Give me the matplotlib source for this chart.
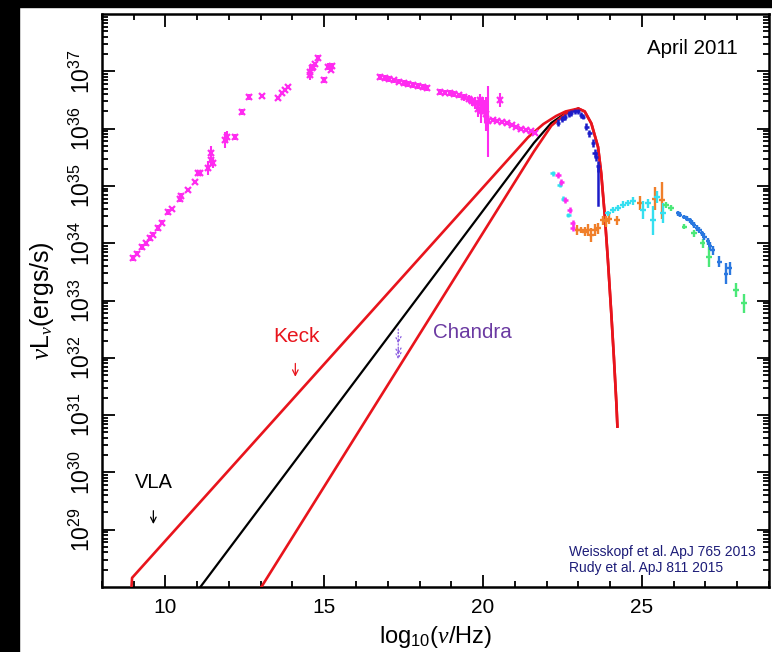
import numpy as np
import matplotlib
matplotlib.use('Agg')
import matplotlib.pyplot as plt
from matplotlib.patches import Rectangle
from matplotlib.ticker import LogLocator, NullFormatter, MultipleLocator

plt.rcParams['font.family'] = ['Liberation Sans', 'DejaVu Sans']
plt.rcParams['mathtext.fontset'] = 'custom'
plt.rcParams['mathtext.rm'] = 'Liberation Sans'
plt.rcParams['mathtext.it'] = 'Liberation Serif:italic'

# ---- data (x = log10 nu/Hz, y = log10 nuL_nu) ----
# radio / IR / optical / X-ray (magenta)
mag_x = [8.99, 9.1, 9.25, 9.38, 9.52, 9.62, 9.78, 9.9, 10.09, 10.2, 10.46, 10.5,
         10.72, 10.93, 11.04, 11.1, 11.35, 11.42, 11.44, 11.5, 11.86, 11.95, 12.19,
         12.42, 12.64, 13.05, 13.53, 13.66, 13.76, 13.87, 14.55, 14.6, 14.65, 14.72,
         14.81, 14.55, 15.0, 15.13, 15.23, 15.2,
         16.75, 16.9, 17.05, 17.2, 17.35, 17.5, 17.65, 17.8, 17.95, 18.1, 18.25,
         18.64, 18.8, 18.95, 19.1, 19.25, 19.4, 19.55, 19.65,
         19.75, 19.85, 19.9, 19.95, 20.0, 20.05, 20.1, 20.16, 20.52,
         20.3, 20.45, 20.6, 20.75, 20.9, 21.05, 21.2, 21.35, 21.5, 21.65]
mag_y = [33.74, 33.82, 33.94, 34.0, 34.09, 34.15, 34.27, 34.36, 34.55, 34.6, 34.78, 34.82,
         34.93, 35.07, 35.22, 35.22, 35.31, 35.45, 35.57, 35.4, 35.80, 35.85, 35.86,
         36.29, 36.55, 36.57, 36.53, 36.62, 36.67, 36.72, 36.99, 37.05, 37.08, 37.12,
         37.23, 36.93, 36.85, 37.08, 37.09, 37.02,
         36.90, 36.88, 36.86, 36.84, 36.82, 36.80, 36.78, 36.76, 36.74, 36.72, 36.71,
         36.64, 36.63, 36.62, 36.60, 36.58, 36.55, 36.52, 36.48,
         36.45, 36.35, 36.50, 36.30, 36.40, 36.30, 36.25, 36.13, 36.50,
         36.15, 36.13, 36.12, 36.10, 36.07, 36.03, 36.00, 35.97, 35.95, 35.93]
mag_e = [0.05, 0.04, 0.05, 0.04, 0.05, 0.04, 0.05, 0.04, 0.05, 0.04, 0.06, 0.06,
         0.03, 0.03, 0.04, 0.04, 0.12, 0.10, 0.12, 0.08, 0.14, 0.10, 0.05,
         0.05, 0.05, 0.03, 0.03, 0.03, 0.03, 0.03, 0.08, 0.05, 0.05, 0.04,
         0.05, 0.08, 0.05, 0.06, 0.05, 0.04,
         0.05, 0.05, 0.05, 0.05, 0.05, 0.05, 0.05, 0.05, 0.05, 0.05, 0.05,
         0.05, 0.05, 0.05, 0.05, 0.05, 0.06, 0.07, 0.08,
         0.10, 0.15, 0.10, 0.20, 0.15, 0.20, 0.30, 0.62, 0.12,
         0.03, 0.03, 0.03, 0.03, 0.03, 0.03, 0.03, 0.03, 0.03, 0.03]

# Fermi low energy (cyan / magenta)
lowc_x = [22.20, 22.41, 22.52, 22.69]
lowc_y = [35.22, 35.02, 34.78, 34.49]
lowm_x = [22.36, 22.46, 22.59, 22.73, 22.83, 22.83]
lowm_y = [35.19, 35.07, 34.75, 34.58, 34.35, 34.26]

# COMPTEL / peak (dark blue)
blue_x = [22.36, 22.5, 22.57, 22.7, 22.77, 22.88, 22.99, 23.09, 23.14, 23.25, 23.35,
          23.46, 23.51, 23.56, 23.62]
blue_y = [36.10, 36.17, 36.20, 36.25, 36.27, 36.30, 36.30, 36.24, 36.21, 36.03, 35.92,
          35.75, 35.57, 35.51, 35.34]
blue_e = [0.06, 0.05, 0.05, 0.05, 0.05, 0.05, 0.05, 0.05, 0.05, 0.06, 0.06,
          0.07, 0.07, 0.08, 0.10]

# GeV/TeV (orange, cyan, green, blue)
ora_x = [22.97, 23.09, 23.20, 23.30, 23.41, 23.51, 23.62, 23.77, 23.88, 23.98, 24.22,
         24.93, 25.40, 25.63]
ora_y = [34.23, 34.23, 34.20, 34.23, 34.14, 34.23, 34.26, 34.40, 34.38, 34.43, 34.40,
         34.70, 34.78, 34.75]
ora_e = [0.08, 0.06, 0.08, 0.10, 0.12, 0.10, 0.10, 0.08, 0.10, 0.10, 0.08,
         0.12, 0.20, 0.32]
cya_x = [23.93, 24.09, 24.25, 24.40, 24.56, 24.72, 25.03, 25.19, 25.35, 25.48, 25.66]
cya_y = [34.52, 34.58, 34.61, 34.67, 34.70, 34.74, 34.58, 34.70, 34.40, 34.81, 34.53]
cya_e = [0.05, 0.05, 0.05, 0.06, 0.05, 0.07, 0.15, 0.08, 0.25, 0.10, 0.18]
grn_x = [25.76, 25.92, 26.34, 26.65, 26.91, 27.12, 27.96, 28.21]
grn_y = [34.67, 34.61, 34.29, 34.17, 34.00, 33.76, 33.18, 32.95]
grn_e = [0.05, 0.05, 0.05, 0.06, 0.08, 0.18, 0.12, 0.16]
tev_x = [26.13, 26.2, 26.34, 26.42, 26.50, 26.58, 26.65, 26.73, 26.81, 26.89, 26.97,
         27.08, 27.15, 27.23, 27.44, 27.65, 27.76]
tev_y = [34.52, 34.50, 34.46, 34.43, 34.40, 34.36, 34.32, 34.27, 34.23, 34.17, 34.11,
         34.03, 33.95, 33.88, 33.68, 33.47, 33.56]
tev_e = [0.04, 0.04, 0.04, 0.04, 0.04, 0.04, 0.05, 0.05, 0.05, 0.05, 0.06,
         0.06, 0.07, 0.08, 0.10, 0.18, 0.12]

# model curves
red1_x = [8.93, 8.95, 21.42, 21.9, 22.3, 22.6, 23.0, 23.2, 23.41,
          23.62, 23.72, 23.83, 23.93, 24.04, 24.12, 24.20, 24.23]
red1_y = [28.0, 28.16, 35.85, 36.08, 36.22, 36.3, 36.35, 36.3, 36.09,
          35.68, 35.22, 34.5, 33.71, 32.75, 32.0, 31.18, 30.8]
blk_x = [11.1, 21.6, 22.15, 22.6, 23.0]
blk_y = [28.0, 35.75, 36.1, 36.27, 36.35]
red2_x = [13.02, 21.6, 22.15, 22.6, 23.0, 23.2, 23.41, 23.62, 23.72,
          23.83, 23.93, 24.04, 24.12, 24.20, 24.23]
red2_y = [28.0, 35.6, 36.05, 36.26, 36.35, 36.3, 36.09, 35.68, 35.22,
          34.5, 33.71, 32.75, 32.0, 31.18, 30.8]


def p10(v):
    return 10.0 ** np.asarray(v, dtype=float)


def errs(y, e):
    y = np.asarray(y, float)
    e = np.asarray(e, float)
    return [10 ** y - 10 ** (y - e), 10 ** (y + e) - 10 ** y]


fig = plt.figure(figsize=(7.72, 6.52), dpi=100, facecolor='white')
ax = fig.add_axes([0.132, 0.0997, 0.864, 0.8788])
ax.set_yscale('log')
ax.set_xlim(8, 29)
ax.set_ylim(1e28, 1e38)

ax.plot(red1_x, p10(red1_y), color='#e8141c', lw=1.9, zorder=3)
ax.plot(red2_x, p10(red2_y), color='#e8141c', lw=1.9, zorder=3)
ax.plot(blk_x, p10(blk_y), color='black', lw=1.6, zorder=2)

magc = '#ff2bf0'
ax.errorbar(mag_x, p10(mag_y), yerr=errs(mag_y, mag_e), fmt='x', ms=5, mew=1.6,
            color=magc, ecolor=magc, elinewidth=1.5, capsize=0, zorder=4)
ax.errorbar(lowc_x, p10(lowc_y), yerr=errs(lowc_y, [0.04] * 4), xerr=0.08, fmt='none',
            ecolor='#2fe0f0', elinewidth=1.8, zorder=4)
ax.errorbar(lowm_x, p10(lowm_y), yerr=errs(lowm_y, [0.05] * 6), xerr=0.08, fmt='none',
            ecolor=magc, elinewidth=1.8, zorder=4)
ax.errorbar(blue_x, p10(blue_y), yerr=errs(blue_y, blue_e), xerr=0.07, fmt='none',
            ecolor='#1c1cc8', elinewidth=1.8, zorder=4)
ax.plot([23.62, 23.62], p10([35.34, 34.67]), color='#1c1cc8', lw=1.8, zorder=4)
ax.errorbar(ora_x, p10(ora_y), yerr=errs(ora_y, ora_e), xerr=0.09, fmt='none',
            ecolor='#f07f2a', elinewidth=1.7, zorder=4)
ax.errorbar(cya_x, p10(cya_y), yerr=errs(cya_y, cya_e), xerr=0.09, fmt='none',
            ecolor='#35dff0', elinewidth=1.7, zorder=4)
ax.errorbar(grn_x, p10(grn_y), yerr=errs(grn_y, grn_e), xerr=0.09, fmt='none',
            ecolor='#4be878', elinewidth=1.7, zorder=4)
ax.errorbar(tev_x, p10(tev_y), yerr=errs(tev_y, tev_e), xerr=0.07, fmt='none',
            ecolor='#2a78e0', elinewidth=1.7, zorder=4)

# upper limits
ax.annotate('', xy=(14.09, 10 ** 31.62), xytext=(14.09, 10 ** 31.95),
            arrowprops=dict(arrowstyle='->', color='#e8141c', lw=0.9))
ax.annotate('', xy=(9.62, 10 ** 29.05), xytext=(9.62, 10 ** 29.38),
            arrowprops=dict(arrowstyle='->', color='black', lw=0.9))
for y0, y1 in [(32.55, 32.2), (32.35, 32.0), (32.2, 31.92)]:
    ax.annotate('', xy=(17.33, 10 ** y1), xytext=(17.33, 10 ** y0),
                arrowprops=dict(arrowstyle='->', color='#8a5ce0', lw=0.9, ls=':'))

ax.text(14.12, 10 ** 32.37, 'Keck', color='#e8141c', fontsize=15, ha='center', va='center')
ax.text(9.65, 10 ** 29.83, 'VLA', color='black', fontsize=14.5, ha='center', va='center')
ax.text(18.43, 10 ** 32.45, 'Chandra', color='#6b3aa2', fontsize=14.8, ha='left', va='center')
ax.text(0.9535, 0.94, 'April 2011', transform=ax.transAxes, fontsize=14.8,
        ha='right', va='center')
ax.text(0.70, 0.047, 'Weisskopf et al. ApJ 765 2013\nRudy et al. ApJ 811 2015',
        transform=ax.transAxes, fontsize=10, color='#1c1c78', ha='left', va='center',
        linespacing=1.2)

# axes styling
ax.xaxis.set_major_locator(MultipleLocator(5))
ax.xaxis.set_minor_locator(MultipleLocator(1))
ax.set_yticks(p10(np.arange(29, 38)))
ax.yaxis.set_minor_locator(LogLocator(base=10, subs=np.arange(2, 10), numticks=20))
ax.yaxis.set_minor_formatter(NullFormatter())
ax.tick_params(which='both', direction='in', top=True, right=True, width=1.3)
ax.tick_params(axis='x', labelsize=15, pad=8)
ax.tick_params(axis='y', labelsize=16.5, pad=5)
ax.tick_params(which='major', length=9)
ax.tick_params(which='minor', length=4.5)
for lab in ax.get_yticklabels():
    lab.set_rotation(90)
    lab.set_va('center')
for s in ax.spines.values():
    s.set_linewidth(1.8)

ax.set_xlabel(r'log$_{10}$($\nu$/Hz)', fontsize=17, labelpad=5)
ax.set_ylabel(r'$\nu$L$_\nu$(ergs/s)', fontsize=18, labelpad=10)

# black frame strips of the screenshot
fig.patches.append(Rectangle((0, 1 - 7 / 652), 1, 7 / 652, transform=fig.transFigure,
                             color='black', zorder=10))
fig.patches.append(Rectangle((0, 0), 19 / 772, 1, transform=fig.transFigure,
                             color='black', zorder=10))

fig.savefig('out.png', dpi=100, facecolor='white')
